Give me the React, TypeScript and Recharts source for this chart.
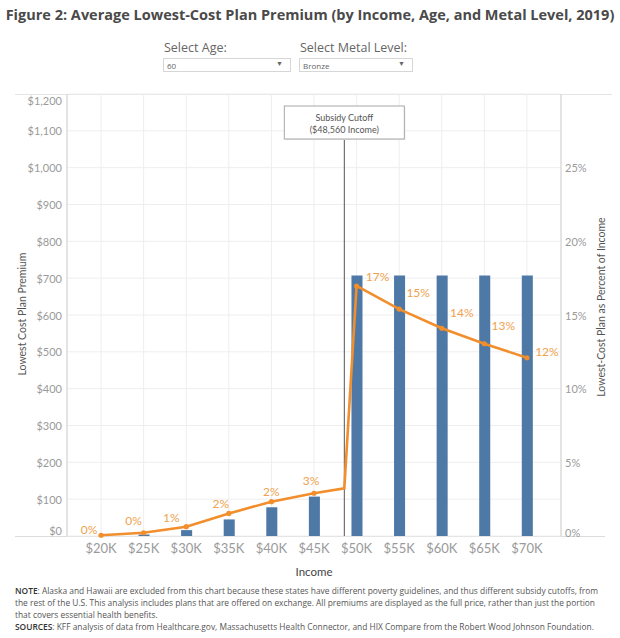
import React from 'react';
import {
  ComposedChart,
  Bar,
  Line,
  XAxis,
  YAxis,
  CartesianGrid,
  ReferenceLine,
  LabelList,
} from 'recharts';

// values
const incomes = [20000, 25000, 30000, 35000, 40000, 45000, 50000, 55000, 60000, 65000, 70000];
const premiums = [0, 4, 16, 45, 78, 107, 707, 707, 707, 707, 707];
const pctOfIncome = [0.05, 0.22, 0.63, 1.53, 2.33, 2.9, 16.97, 15.4, 14.1, 13.05, 12.1];
const pctLabels = ['0%', '0%', '1%', '2%', '2%', '3%', '17%', '15%', '14%', '13%', '12%'];
const subsidyCutoff = 48560;
const cutoffPct = 3.24;
const premiumTicks = [0, 100, 200, 300, 400, 500, 600, 700, 800, 900, 1000, 1100, 1200];
const pctTicks = [0, 5, 10, 15, 20, 25];

const chartData = [
  ...incomes.map((income, i) => ({
    income,
    premium: premiums[i],
    pct: pctOfIncome[i],
    label: pctLabels[i],
  })),
  { income: subsidyCutoff, premium: null as number | null, pct: cutoffPct, label: '' },
].sort((a, b) => a.income - b.income);

const BLUE = '#4E79A7';
const ORANGE = '#F28E2B';
const LABEL_ORANGE = '#F0A24E';
const TICK = '#9a9a9a';
const CHART_FONT = 'Lato, "Open Sans", sans-serif';
const TEXT_FONT = '"Open Sans", sans-serif';

// label nudges (px) so the percent labels sit where Tableau put them
const labelNudge: Record<number, [number, number]> = {
  20000: [-12, -6],
  25000: [-10, -12],
  30000: [-15, -9],
  35000: [-8, -10],
  40000: [0, -10],
  45000: [-3, -13],
  50000: [21, -9],
  55000: [19, -17],
  60000: [20, -16],
  65000: [19, -18],
  70000: [20, -6],
};

const LeftTick = (props: any) => {
  const { x, y, payload } = props;
  const v = payload.value;
  const shift = v === 0 ? -6 : v === 1200 ? 6 : 0;
  return (
    <text x={x} y={y + shift} textAnchor="end" dominantBaseline="central" fill={TICK} fontSize={11} fontFamily={CHART_FONT}>
      ${v.toLocaleString('en-US')}
    </text>
  );
};

const RightTick = (props: any) => {
  const { x, y, payload } = props;
  const v = payload.value;
  const shift = v === 0 ? -4 : 0;
  return (
    <text x={x} y={y + shift} textAnchor="start" dominantBaseline="central" fill={TICK} fontSize={11} fontFamily={CHART_FONT}>
      {v}%
    </text>
  );
};

const PointDot = (props: any) => {
  const { cx, cy, payload, index } = props;
  if (!payload.label) return <g key={`d${index}`} />;
  return <circle key={`d${index}`} cx={cx} cy={cy} r={2.6} fill={ORANGE} />;
};

const PctLabel = (props: any) => {
  const { x, y, value, index } = props;
  if (!value) return null;
  const row = chartData[index];
  const [dx, dy] = labelNudge[row.income] || [0, -10];
  return (
    <text x={x + dx} y={y + dy} textAnchor="middle" dominantBaseline="central" fill={LABEL_ORANGE} fontSize={12} fontFamily={CHART_FONT}>
      {value}
    </text>
  );
};

const CutoffMarker = (props: any) => {
  const { x, y, height } = props.viewBox;
  const boxTop = y + 12;
  const boxH = 33;
  const boxW = 120;
  return (
    <g>
      <line x1={x} x2={x} y1={boxTop + boxH} y2={y + height} stroke="#555" strokeWidth={1} />
      <rect x={x - boxW / 2 + 1} y={boxTop + 1} width={boxW} height={boxH} fill="#e6e6e6" />
      <rect x={x - boxW / 2} y={boxTop} width={boxW} height={boxH} fill="#fff" stroke="#a8a8a8" strokeWidth={1} />
      <text x={x} y={boxTop + 11} textAnchor="middle" dominantBaseline="central" fill="#555" fontSize={9} fontFamily={CHART_FONT}>
        Subsidy Cutoff
      </text>
      <text x={x} y={boxTop + 23} textAnchor="middle" dominantBaseline="central" fill="#555" fontSize={9} fontFamily={CHART_FONT}>
        ($48,560 Income)
      </text>
    </g>
  );
};

const Dropdown = ({ left, width, label, value }: { left: number; width: number; label: string; value: string }) => (
  <>
    <div style={{ position: 'absolute', left: left + 1, top: 39, fontSize: 12.5, color: '#666', fontFamily: TEXT_FONT }}>{label}</div>
    <div
      style={{
        position: 'absolute',
        left,
        top: 58,
        width,
        height: 14,
        border: '1px solid #d6d6d6',
        boxSizing: 'border-box',
        background: '#fff',
      }}
    >
      <span style={{ position: 'absolute', left: 3, top: 1, fontSize: 8, color: '#666', fontFamily: TEXT_FONT }}>{value}</span>
      <span style={{ position: 'absolute', right: 7, top: 1, fontSize: 7, color: '#666' }}>▼</span>
    </div>
  </>
);

const footLine: React.CSSProperties = {
  position: 'absolute',
  left: 15,
  fontSize: 8.4,
  color: '#555',
  fontFamily: TEXT_FONT,
  whiteSpace: 'nowrap',
};

const App = () => {
  return (
    <div style={{ position: 'absolute', left: 0, top: 0, width: 620, height: 638, background: '#fff', overflow: 'hidden' }}>
      <div
        style={{
          position: 'absolute',
          left: 0,
          top: 5,
          width: 620,
          textAlign: 'center',
          fontSize: 14.5,
          fontWeight: 700,
          color: '#4a4a4a',
          fontFamily: TEXT_FONT,
          whiteSpace: 'nowrap',
        }}
      >
        Figure 2: Average Lowest-Cost Plan Premium (by Income, Age, and Metal Level, 2019)
      </div>

      <Dropdown left={163} width={128} label="Select Age:" value="60" />
      <Dropdown left={299} width={114} label="Select Metal Level:" value="Bronze" />

      {/* frame lines */}
      <div style={{ position: 'absolute', left: 15, top: 93.5, width: 597, height: 1, background: '#e4e4e4' }} />
      <div style={{ position: 'absolute', left: 15, top: 536, width: 590, height: 1, background: '#dcdcdc' }} />

      <div
        style={{
          position: 'absolute',
          left: 22,
          top: 314,
          transform: 'translate(-50%, -50%) rotate(-90deg)',
          fontSize: 10.5,
          color: '#555',
          fontFamily: CHART_FONT,
          whiteSpace: 'nowrap',
        }}
      >
        Lowest Cost Plan Premium
      </div>
      <div
        style={{
          position: 'absolute',
          left: 601,
          top: 307,
          transform: 'translate(-50%, -50%) rotate(-90deg)',
          fontSize: 10.5,
          color: '#555',
          fontFamily: CHART_FONT,
          whiteSpace: 'nowrap',
        }}
      >
        Lowest-Cost Plan as Percent of Income
      </div>
      <div style={{ position: 'absolute', left: 314, top: 571, transform: 'translate(-50%, -50%)', fontSize: 11.5, color: '#444', fontFamily: CHART_FONT }}>
        Income
      </div>

      <div style={{ position: 'absolute', left: 0, top: 0 }}>
        <ComposedChart width={620} height={638} data={chartData} margin={{ top: 94, right: 10, bottom: 72, left: 15 }}>
          <CartesianGrid stroke="#eeeeee" yAxisId="left" />
          <XAxis
            dataKey="income"
            type="number"
            domain={[16000, 74000]}
            ticks={incomes}
            allowDataOverflow
            height={30}
            axisLine={false}
            tickLine={false}
            tickFormatter={(v: number) => `$${v / 1000}K`}
            tick={{ fill: TICK, fontSize: 13, fontFamily: CHART_FONT }}
          />
          <YAxis
            yAxisId="left"
            orientation="left"
            width={52}
            domain={[0, 1200]}
            ticks={premiumTicks}
            axisLine={{ stroke: '#d0d0d0' }}
            tickLine={false}
            tickSize={3}
            tickMargin={2}
            tick={<LeftTick />}
          />
          <YAxis
            yAxisId="right"
            orientation="right"
            width={49}
            domain={[0, 30]}
            ticks={pctTicks}
            axisLine={{ stroke: '#d0d0d0' }}
            tickLine={false}
            tickSize={2}
            tickMargin={2}
            tick={<RightTick />}
          />
          <Bar yAxisId="left" dataKey="premium" fill={BLUE} barSize={15} isAnimationActive={false} />
          <ReferenceLine
            yAxisId="left"
            x={subsidyCutoff}
            stroke="none"
            label={(p: any) => <CutoffMarker {...p} />}
          />
          <Line
            yAxisId="right"
            dataKey="pct"
            type="linear"
            stroke={ORANGE}
            strokeWidth={2.6}
            dot={<PointDot />}
            activeDot={false}
            isAnimationActive={false}
          >
            <LabelList dataKey="label" content={<PctLabel />} />
          </Line>
        </ComposedChart>
      </div>

      <div style={{ ...footLine, top: 585 }}>
        <span style={{ color: '#333', fontWeight: 600 }}>NOTE</span>: Alaska and Hawaii are excluded from this chart because these states have different poverty guidelines, and thus different subsidy cutoffs, from
      </div>
      <div style={{ ...footLine, top: 597 }}>
        the rest of the U.S. This analysis includes plans that are offered on exchange. All premiums are displayed as the full price, rather than just the portion
      </div>
      <div style={{ ...footLine, top: 609 }}>that covers essential health benefits.</div>
      <div style={{ ...footLine, top: 621 }}>
        <span style={{ color: '#333', fontWeight: 600 }}>SOURCES</span>: KFF analysis of data from Healthcare.gov, Massachusetts Health Connector, and HIX Compare from the Robert Wood Johnson Foundation.
      </div>
    </div>
  );
};

export default App;
